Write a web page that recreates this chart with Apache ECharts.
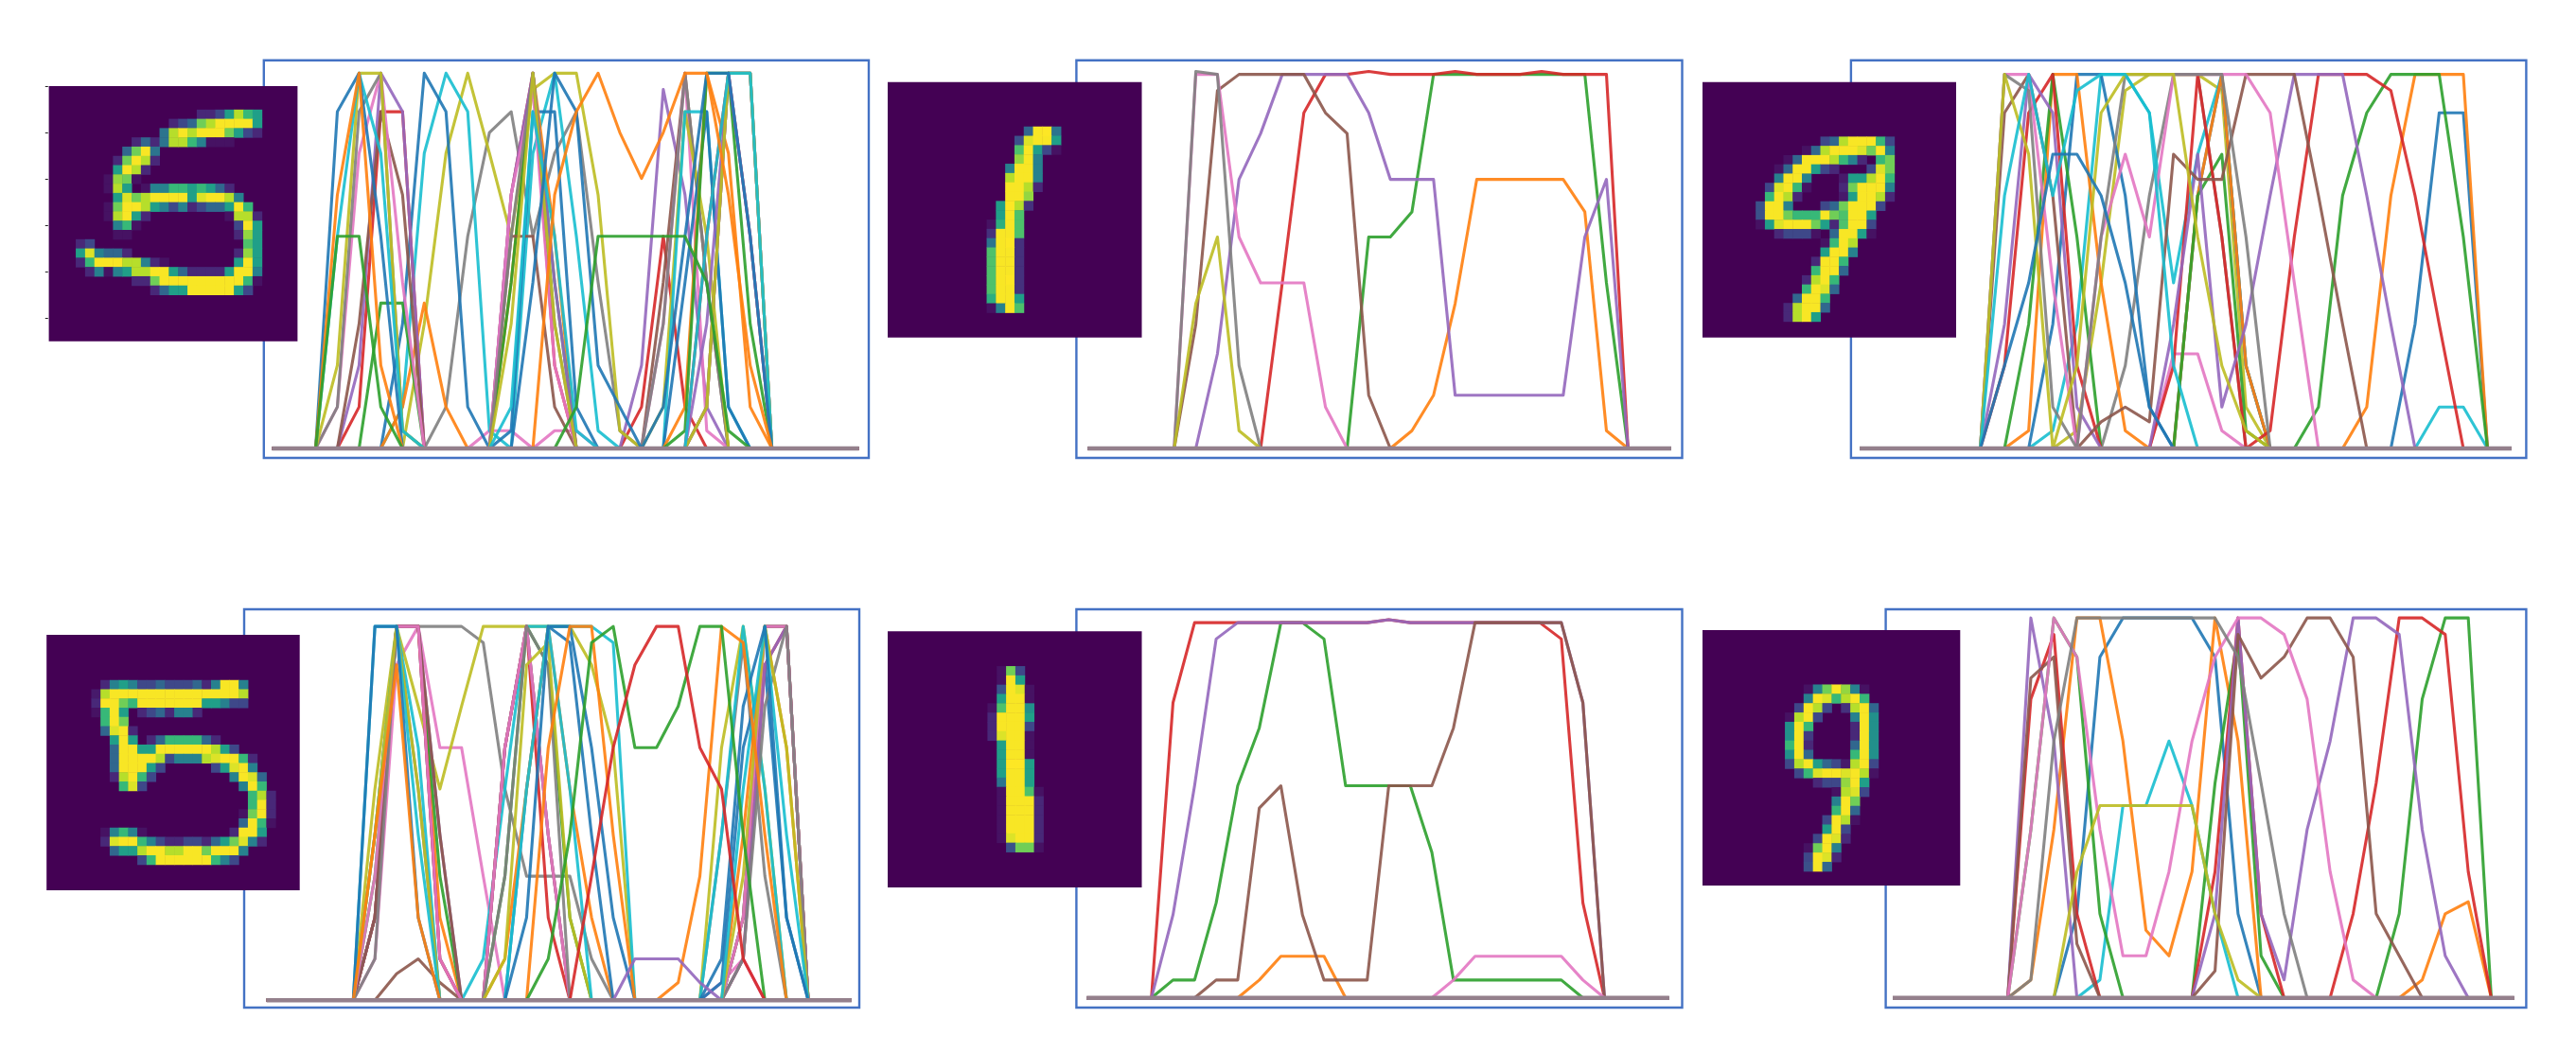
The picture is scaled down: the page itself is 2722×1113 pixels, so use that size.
<!DOCTYPE html>
<html>
<head>
<meta charset="utf-8">
<style>html,body{margin:0;padding:0;background:#fff}#chart{width:2722px;height:1113px}</style>
<script src="https://cdn.jsdelivr.net/npm/echarts@6/dist/echarts.min.js"></script>
</head>
<body>
<div id="chart"></div>
<script>
// Pixel readings: [row, first column, one character per pixel]; unlisted pixels are 0.
const pixelLevels = {"0":0,"1":12,"i":18,"2":28,"e":36,"k":45,"3":56,"j":64,"4":84,"d":98,"5":112,"l":128,"6":143,"h":160,"7":171,"b":182,"8":199,"c":213,"9":227,"a":242,"f":253,"g":255};

const digit5Top = [
[3,16,"2236976"],[4,13,"23489ffff6"],[5,12,"d9f9fff8632"],[6,9,"242d9975111"],[7,8,"48fd"],
[8,7,"28f92"],[9,7,"6f92"],[10,6,"1c81"],[11,6,"19601557767642"],[12,7,"6a89ffff6aff95"],
[13,6,"18ff9653523446f7"],[14,6,"19f62"],[14,19,"1992"],[15,7,"571"],[15,20,"3f6"],[16,7,"11"],[16,20,"2c6"],
[17,3,"23"],[17,21,"b6"],[18,3,"6a5442"],[18,20,"2c6"],[19,3,"27fff99521"],[19,20,"6f6"],
[20,4,"2515699ff6422226ff5"],[21,9,"228fffffffff71"],[22,11,"2466fffff63"]
];
const digit1Top = [
[5,15,"4fgd"],[6,14,"jaff6"],[7,14,"bf631"],[8,14,"cf5"],[9,13,"5ff5"],[10,13,"9ff5"],[11,13,"ff92"],[12,13,"ffc"],
[13,12,"6g9e"],[14,12,"6fb"],[15,11,"1hfb"],[16,11,"effb"],[17,11,"dfge"],[18,11,"bffe"],[19,11,"bffe"],[20,11,"bffe"],
[21,11,"bfge"],[22,11,"bffe"],[23,11,"hff6"],[24,11,"15fb"]
];
const digit9Top = [
[6,13,"349fff73"],[7,11,"149fffa8f5"],[8,9,"14fff9752078"],[9,8,"14ff6320003a8"],[10,8,"5ff5000i669f7"],
[11,7,"3af71"],[11,15,"28fff5"],[12,7,"7f92"],[12,15,"i6ff92"],[13,6,"jff5"],[13,13,"348fff3"],
[14,6,"jff8777f8bff6"],[15,6,"16afff862bff3"],[16,8,"2333104ff61"],[17,13,"17f9"],[18,13,"6ff5"],[19,12,"2ff7"],
[20,12,"7ff4"],[21,11,"29f7"],[22,11,"7fa4"],[23,10,"4ff7"],[24,9,"29ff4"],[25,9,"29f6"]
];
const digit5Bottom = [
[5,6,"2565334333425ff5"],[6,5,"i9ffffffffffffff9"],[7,5,"2ff87fffffff66533"],[8,5,"17f602342552"],[9,6,"7f8"],
[10,6,"4af2"],[11,7,"6f6024777742"],[12,7,"4ff66ffffff963"],[13,7,"4ffff935559aff72"],[14,7,"4fff63"],[14,18,"36af5"],
[15,7,"29f73"],[15,20,"5fa4"],[16,8,"7a3"],[16,21,"5f7"],[17,22,"792"],[18,22,"7f2"],[19,21,"18f2"],[20,21,"4f71"],
[21,6,"15751"],[21,20,"2ff6"],[22,6,"2aff75322332468a52"],[23,7,"4669ff99ff8fff5"],[24,10,"37ffffff753"]
];
const digit1Bottom = [
[4,12,"183"],[5,12,"1f6"],[6,12,"jfa1"],[7,12,"6ff1"],[8,11,"1bffl"],[9,11,"2fff6"],[10,11,"2fff3"],[11,11,"2aff1"],
[12,12,"6ff1"],[13,12,"6ff1"],[14,12,"6gg6"],[15,12,"6ff6"],[16,12,"dff6"],[17,12,"1ffb1"],[18,12,"1fff2"],[19,12,"1fff2"],
[20,12,"1fff2"],[21,12,"1fff2"],[22,12,"1aff2"],[23,13,"j881"]
];
const digit9Bottom = [
[6,11,"158fc51"],[7,11,"5fa79f7"],[8,10,"3f930e9f4"],[9,9,"19f3"],[9,16,"5fl"],[10,9,"lf7"],[10,16,"2fl"],[11,9,"lfk"],[11,16,"2fl"],
[12,9,"7f2"],[12,16,"4fl"],[13,9,"lf4"],[13,16,"7fl"],[14,9,"39f643i9f3"],[15,10,"37affaf91"],[16,12,"233cf6"],[17,14,"19a3"],
[18,14,"5f8"],[19,14,"7f4"],[20,13,"3f91"],[21,13,"6f3"],[22,12,"3fa2"],[23,11,"18f5"],[24,11,"3fa2"],[25,11,"jf4"]
];

const pixelIndex = Array.from({length:28},(_,i)=>String(i));
const tab10 = ["#1f77b4","#ff7f0e","#2ca02c","#d62728","#9467bd","#8c564b","#e377c2","#7f7f7f","#bcbd22","#17becf"];
const viridis = ["#440154","#482878","#3e4989","#31688e","#26828e","#1f9e89","#35b779","#6ece58","#b5de2b","#fde725"];
const frameColor = "#4472c4", baselineColor = "#94808c";

// Layout of the six panels, in pixels
const panels = [
 {digit:digit5Top,   frame:[278.8,63.7,918,484],    image:[51.6,91,314.4,360.7],   cells:[50.8,86.7,275.3,274],  lines:[287.6,907.5,74.2,474], ticks:true},
 {digit:digit1Top,   frame:[1137.4,63.7,1777.5,484],image:[938,86.7,1206.5,356.7], cells:[935,84.8,274.4,275.3], lines:[1149.4,1766,75.5,474]},
 {digit:digit9Top,   frame:[1955.9,63.7,2669.4,484],image:[1799,86.7,2067,356.7],  cells:[1796.8,86,273.5,273.5],lines:[1965,2654,75.5,474]},
 {digit:digit5Bottom,frame:[258,644,908,1065],      image:[49.2,671,316.7,941],    cells:[48,670.25,272.6,273],  lines:[281.7,899.8,659,1057.3]},
 {digit:digit1Bottom,frame:[1137.4,644,1777.5,1065],image:[938,667.3,1206.5,938],  cells:[935.5,665,275.3,275],  lines:[1148.3,1763.8,655,1054.7]},
 {digit:digit9Bottom,frame:[1992.6,644,2669.4,1065],image:[1799,666,2071.3,936],   cells:[1797.5,664.5,276.3,276.3],lines:[2000,2656.8,650,1054.7]}
];

function toMatrix(readings){
  const m = pixelIndex.map(()=>pixelIndex.map(()=>0));
  readings.forEach(([r,c,s])=>{ for(let i=0;i<s.length;i++) m[r][c+i] = pixelLevels[s[i]]; });
  return m;
}

const grid=[], xAxis=[], yAxis=[], series=[], heatIdx=[];
const frames=[], backs=[];
panels.forEach((p)=>{
  const m = toMatrix(p.digit);
  const [x0,x1,yTop,yBase] = p.lines;
  // line plot
  const gi = grid.length;
  grid.push({left:x0,top:yTop,width:x1-x0,height:yBase-yTop,containLabel:false});
  xAxis.push({type:'value',gridIndex:gi,min:0,max:27,show:false});
  yAxis.push({type:'value',gridIndex:gi,min:0,max:255,show:false});
  pixelIndex.forEach((_,c)=>{
    series.push({type:'line',xAxisIndex:gi,yAxisIndex:gi,showSymbol:false,silent:true,clip:false,
      lineStyle:{width:3.1,color:tab10[c%10],opacity:0.9,join:'round'},itemStyle:{color:tab10[c%10]},
      data:m.map((row,r)=>[r,row[c]])});
  });
  series.push({type:'line',xAxisIndex:gi,yAxisIndex:gi,showSymbol:false,silent:true,clip:false,
    lineStyle:{width:4.5,color:baselineColor},data:pixelIndex.map((_,r)=>[r,0])});
  // digit image
  const hi = grid.length;
  const [cl,ct,cw,ch] = p.cells;
  grid.push({left:cl,top:ct,width:cw,height:ch});
  xAxis.push({type:'category',gridIndex:hi,data:pixelIndex,show:false});
  yAxis.push({type:'category',gridIndex:hi,data:pixelIndex,inverse:true,show:!!p.ticks,
    axisLine:{show:false},axisLabel:{show:false},splitLine:{show:false},
    axisTick:{show:!!p.ticks,alignWithLabel:true,interval:4,length:3,lineStyle:{color:'#222',width:1}}});
  const cells=[];
  m.forEach((row,r)=>row.forEach((v,c)=>{ if(v>0) cells.push([c,r,v]); }));
  heatIdx.push(series.length);
  series.push({type:'heatmap',xAxisIndex:hi,yAxisIndex:hi,silent:true,data:cells,z:5,
    itemStyle:{borderWidth:0},emphasis:{disabled:true}});
  const [fa,fb,fc,fd]=p.frame;
  frames.push({type:'rect',silent:true,z:0,shape:{x:fa,y:fb,width:fc-fa,height:fd-fb},
    style:{fill:'#fff',stroke:frameColor,lineWidth:2.4}});
  const [ia,ib,ic,id]=p.image;
  backs.push({type:'rect',silent:true,z:4,shape:{x:ia,y:ib,width:ic-ia,height:id-ib},
    style:{fill:viridis[0]}});
});

const chart = echarts.init(document.getElementById('chart'),null,{renderer:'canvas',width:2722,height:1113});
chart.setOption({
  animation:false,
  backgroundColor:'#fff',
  grid,xAxis,yAxis,series,
  graphic:{elements:frames.concat(backs)},
  visualMap:{type:'continuous',show:false,seriesIndex:heatIdx,min:0,max:255,inRange:{color:viridis}}
});
</script>
</body>
</html>
